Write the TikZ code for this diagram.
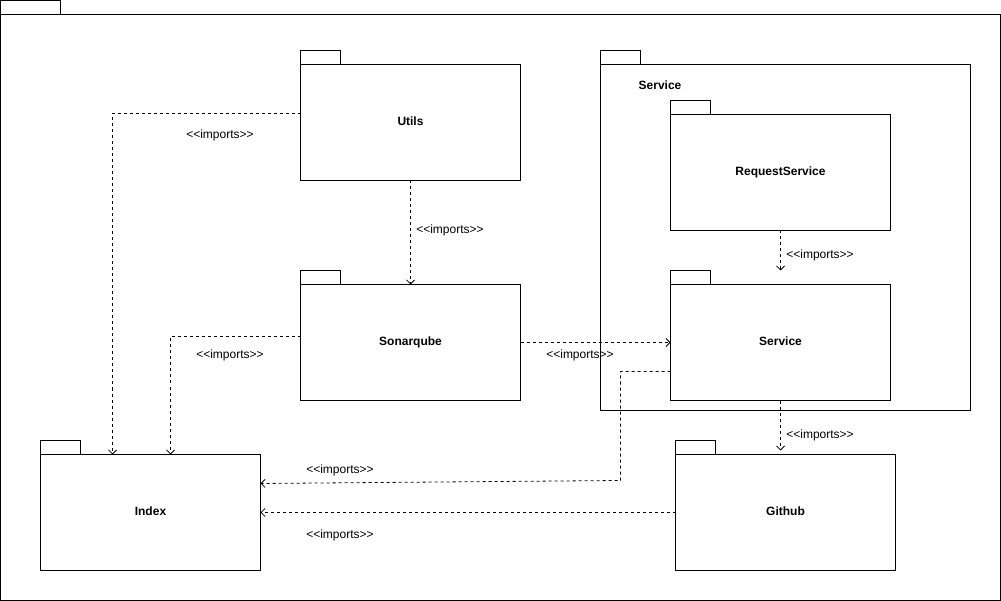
\documentclass[tikz,border=0pt]{standalone}
\usepackage{fontspec}
\setmainfont{Liberation Sans}
\usetikzlibrary{arrows.meta}
\tikzset{
  >={Straight Barb[length=4pt,width=8pt]},
  pkgbody/.style={
    rectangle, draw=black, line width=1pt, fill=white, outer sep=0pt, inner sep=0pt,
    font=\fontsize{12}{14}\selectfont\bfseries, text=black
  },
  pkgtab/.style={
    rectangle, draw=black, line width=1pt, fill=white, outer sep=0pt, inner sep=0pt,
    minimum width=40pt, minimum height=14pt
  },
  imports/.style={->, dash pattern=on 3pt off 3pt, line width=0.8pt, draw=black},
  stereo/.style={font=\fontsize{12}{14}\selectfont, text=black, inner sep=0pt}
}
\newcommand{\pkgbox}[5]{
  \node[pkgbody, minimum width=#3pt, minimum height=#4pt] (#1) at (#2) {\raisebox{2pt}{#5}};
  \node[pkgtab, anchor=south west] (#1-tab) at (#1.north west) {};
}

\begin{document}
\begin{tikzpicture}[x=1pt, y=-1pt]
\useasboundingbox (0,0) rectangle (1001,601);
% outer frame
\node[pkgbody, minimum width=1000pt, minimum height=586pt] (frame) at (500.5,307.5) {};
\node[pkgtab, minimum width=60pt, anchor=south west] (frame-tab) at (frame.north west) {};
% service group
\node[pkgbody, minimum width=370pt, minimum height=346pt] (svcgroup) at (785.5,237.5) {};
\node[pkgtab, anchor=south west] (svcgroup-tab) at (svcgroup.north west) {};
\node[stereo, font=\fontsize{12}{14}\selectfont\bfseries] (svcgroup-label) at (660,85) {Service};
% packages
\pkgbox{utils}{410.5,122.5}{220}{116}{Utils}
\pkgbox{sonar}{410.5,342.5}{220}{116}{Sonarqube}
\pkgbox{reqsvc}{780.5,172.5}{220}{116}{RequestService}
\pkgbox{svc}{780.5,342.5}{220}{116}{Service}
\pkgbox{index}{150.5,512.5}{220}{116}{Index}
\pkgbox{github}{785.5,512.5}{220}{116}{Github}
% dependencies
\coordinate (bend) at (620.5,480.5);
\draw[imports] ([yshift=9pt]utils.west) -| ([xshift=-38pt]index.north);
\draw[imports] (utils.south) -- (sonar.north);
\draw[imports] ([yshift=6pt]sonar.west) -| ([xshift=20pt]index.north);
\draw[imports] (sonar.east) -- (svc.west);
\draw[imports] (reqsvc.south) -- ([yshift=14pt]svc.north);
\draw[imports] (svc.south) -- ([xshift=-5pt,yshift=4pt]github.north);
\draw[imports] ([yshift=-29pt]svc.west) -| (bend) -- ([yshift=29pt]index.east);
\draw[imports] (github.west) -- (index.east);
% labels
\node[stereo] (lbl-utils-index) at (220,135) {<{}<imports>{}>};
\node[stereo] (lbl-utils-sonar) at (450,230) {<{}<imports>{}>};
\node[stereo] (lbl-sonar-index) at (230,355) {<{}<imports>{}>};
\node[stereo] (lbl-sonar-svc) at (580,355) {<{}<imports>{}>};
\node[stereo] (lbl-req-svc) at (820,255) {<{}<imports>{}>};
\node[stereo] (lbl-svc-github) at (820,435) {<{}<imports>{}>};
\node[stereo] (lbl-svc-index) at (340,470) {<{}<imports>{}>};
\node[stereo] (lbl-github-index) at (340,535) {<{}<imports>{}>};
\end{tikzpicture}
\end{document}
